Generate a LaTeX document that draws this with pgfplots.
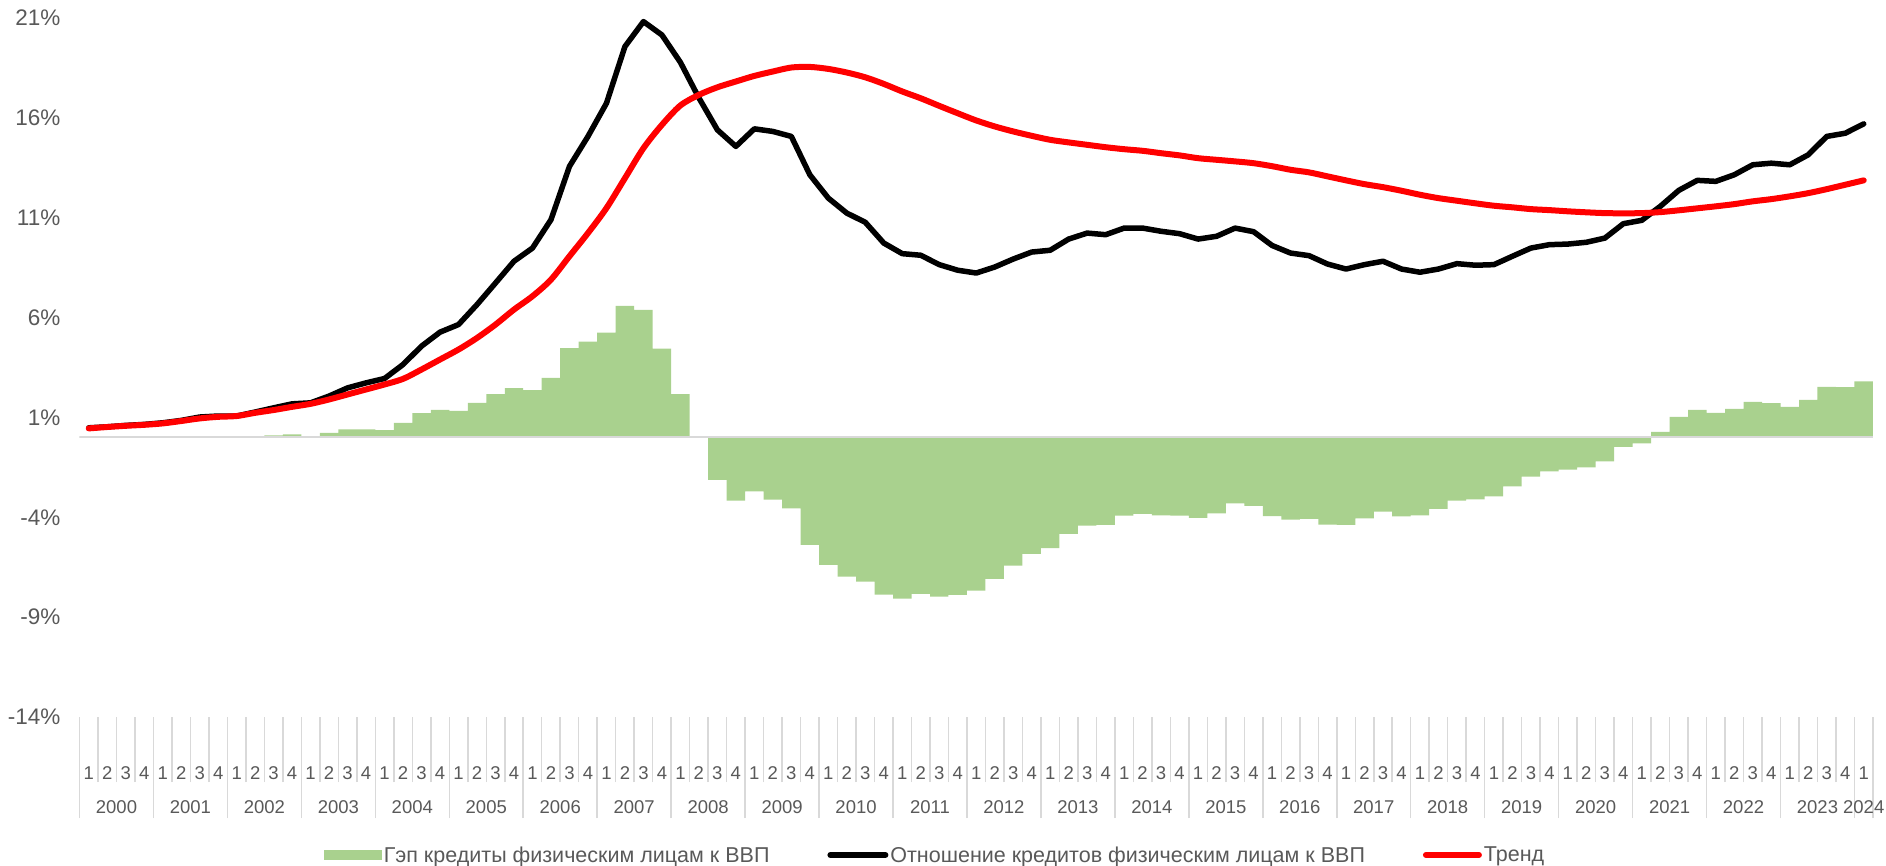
\documentclass[border=0pt]{standalone}
\usepackage{fontspec}
\setmainfont{Liberation Sans}
\usepackage{pgfplots}
\usepackage{pgfplotstable}
\pgfplotsset{compat=1.18}
\definecolor{gapgreen}{HTML}{A9D18E}
\definecolor{txtgray}{HTML}{595959}
\definecolor{sepgray}{HTML}{D9D9D9}

\pgfplotstableread{
x gap ratio trend
0 0.00 0.48 0.45
1 0.01 0.53 0.52
2 0.02 0.60 0.58
3 0.02 0.65 0.63
4 0.03 0.73 0.70
5 0.03 0.85 0.82
6 0.06 1.02 0.95
7 0.02 1.07 1.03
8 0.01 1.07 1.07
9 0.02 1.27 1.23
10 0.10 1.48 1.37
11 0.15 1.68 1.53
12 0.06 1.73 1.68
13 0.23 2.07 1.90
14 0.40 2.48 2.15
15 0.40 2.73 2.40
16 0.37 2.95 2.65
17 0.73 3.65 2.93
18 1.22 4.57 3.40
19 1.38 5.27 3.90
20 1.33 5.65 4.40
21 1.73 6.65 4.98
22 2.17 7.73 5.65
23 2.47 8.82 6.40
24 2.37 9.48 7.07
25 2.98 10.90 7.90
26 4.47 13.57 9.07
27 4.80 15.07 10.23
28 5.25 16.73 11.48
29 6.58 19.57 12.98
30 6.38 20.82 14.48
31 4.45 20.15 15.65
32 2.17 18.78 16.62
33 0.00 17.00 17.15
34 -2.13 15.40 17.53
35 -3.17 14.57 17.82
36 -2.70 15.45 18.10
37 -3.12 15.32 18.32
38 -3.55 15.07 18.52
39 -5.38 13.15 18.55
40 -6.38 11.98 18.45
41 -6.97 11.23 18.27
42 -7.22 10.77 18.03
43 -7.87 9.73 17.70
44 -8.07 9.20 17.32
45 -7.83 9.12 16.98
46 -7.97 8.65 16.60
47 -7.88 8.37 16.23
48 -7.67 8.23 15.87
49 -7.08 8.53 15.57
50 -6.42 8.93 15.32
51 -5.83 9.28 15.10
52 -5.55 9.37 14.90
53 -4.83 9.93 14.77
54 -4.42 10.23 14.65
55 -4.38 10.15 14.53
56 -3.92 10.48 14.43
57 -3.83 10.48 14.35
58 -3.90 10.32 14.23
59 -3.92 10.20 14.12
60 -4.03 9.93 13.98
61 -3.80 10.07 13.90
62 -3.30 10.48 13.82
63 -3.43 10.30 13.73
64 -3.94 9.61 13.58
65 -4.12 9.23 13.40
66 -4.08 9.10 13.27
67 -4.37 8.68 13.07
68 -4.38 8.43 12.87
69 -4.05 8.65 12.68
70 -3.72 8.82 12.53
71 -3.95 8.43 12.35
72 -3.90 8.27 12.15
73 -3.58 8.43 11.98
74 -3.17 8.70 11.85
75 -3.10 8.62 11.72
76 -2.95 8.65 11.60
77 -2.45 9.07 11.52
78 -1.97 9.48 11.43
79 -1.70 9.65 11.38
80 -1.62 9.68 11.32
81 -1.50 9.77 11.27
82 -1.20 9.98 11.23
83 -0.48 10.70 11.22
84 -0.30 10.87 11.23
85 0.28 11.57 11.28
86 1.03 12.37 11.37
87 1.38 12.87 11.47
88 1.23 12.82 11.57
89 1.43 13.15 11.68
90 1.78 13.65 11.82
91 1.72 13.73 11.93
92 1.53 13.65 12.07
93 1.88 14.15 12.23
94 2.53 15.07 12.43
95 2.52 15.23 12.65
96 2.80 15.70 12.87
}\datatable

\begin{document}
\begin{tikzpicture}
\path[use as bounding box] (-79.5pt,-149pt) rectangle (1806.5pt,717pt);
\begin{axis}[
  at={(0pt,0pt)}, anchor=south west,
  scale only axis, width=1793.5pt, height=699pt,
  xmin=-0.5, xmax=96.5, ymin=-14, ymax=21,
  clip mode=individual,
  axis line style={draw=none},
  tick pos=left, tick align=outside,
  major tick length=0pt,
  ytick={-14,-9,-4,1,6,11,16,21},
  yticklabels={-14\%,-9\%,-4\%,1\%,6\%,11\%,16\%,21\%},
  yticklabel style={font=\fontsize{22.5}{26}\selectfont, text=txtgray, anchor=east, inner sep=0pt, xshift=-19pt},
  major y tick style={draw=none},
  xtick={0,...,96},
  xticklabels={1,2,3,4,1,2,3,4,1,2,3,4,1,2,3,4,1,2,3,4,1,2,3,4,1,2,3,4,1,2,3,4,1,2,3,4,1,2,3,4,1,2,3,4,1,2,3,4,1,2,3,4,1,2,3,4,1,2,3,4,1,2,3,4,1,2,3,4,1,2,3,4,1,2,3,4,1,2,3,4,1,2,3,4,1,2,3,4,1,2,3,4,1,2,3,4,1},
  xticklabel style={font=\fontsize{18.5}{22}\selectfont, text=txtgray, anchor=base, inner sep=0pt, yshift=-62.6pt},
  major x tick style={draw=none},
  minor xtick={-0.5,0.5,...,96.5},
  minor tick length=65pt,
  minor x tick style={draw=sepgray, line width=1.5pt},
  extra x ticks={-0.5,3.5,...,95.5,96.5},
  extra x tick labels={},
  extra x tick style={major tick length=101pt, major x tick style={draw=sepgray, line width=1.5pt}},
  legend columns=3,
  legend style={at={(0.477,0)}, anchor=center, yshift=-138pt, draw=none, fill=none,
    font=\fontsize{21.5}{25}\selectfont, text=txtgray,
    /tikz/every even column/.append style={column sep=56pt}},
  legend cell align=left,
]
\addplot[ybar, bar width=1, fill=gapgreen, draw=none,
  legend image code/.code={\fill[gapgreen] (0pt,-5pt) rectangle (58pt,5pt);}]
  table[x=x,y=gap]{\datatable};
\addlegendentry{Гэп кредиты физическим лицам к ВВП}
\addplot[sepgray, line width=2pt, forget plot] coordinates {(-0.5,0) (96.5,0)};
\addplot[black, line width=5.5pt, line join=round, line cap=round,
  legend image code/.code={\draw[black, line width=6pt] (0pt,0pt) -- (55pt,0pt);}]
  table[x=x,y=ratio]{\datatable};
\addlegendentry{Отношение кредитов физическим лицам к ВВП}
\addplot[red, line width=6pt, smooth, line join=round, line cap=round,
  legend image code/.code={\draw[red, line width=6pt] (0pt,0pt) -- (53pt,0pt);}]
  table[x=x,y=trend]{\datatable};
\addlegendentry{Тренд}
\pgfplotsinvokeforeach{0,...,23}{
  \node[anchor=base, font=\fontsize{18.5}{22}\selectfont, text=txtgray, inner sep=0pt, yshift=-96pt]
    at (axis cs:{4*#1+1.5},-14) {\the\numexpr2000+#1\relax};
}
\node[anchor=base, font=\fontsize{18.5}{22}\selectfont, text=txtgray, inner sep=0pt, yshift=-96pt]
    at (axis cs:96,-14) {2024};
\end{axis}
\end{tikzpicture}
\end{document}
